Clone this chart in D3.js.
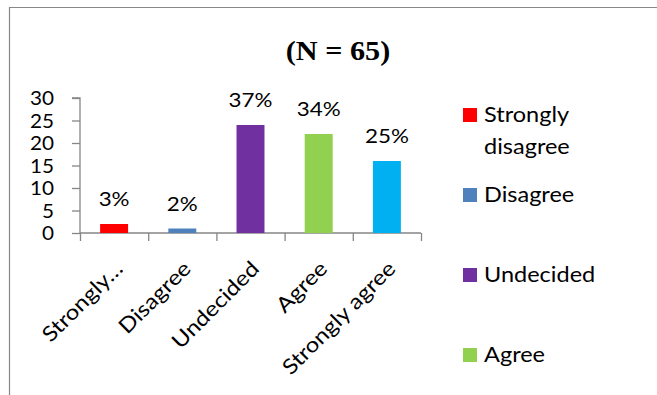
<!DOCTYPE html>
<html>
<head>
<meta charset="utf-8">
<script src="https://cdn.jsdelivr.net/npm/d3@7"></script>
<style>
  html, body { margin: 0; padding: 0; background: #fff; }
  svg { display: block; }
  text { font-family: Lato, "Open Sans", sans-serif; fill: #000; }
</style>
</head>
<body>
<svg id="chart" width="657" height="395"></svg>
<script>
// Survey responses (N = 65)
const total = 65;
const categories = ["Strongly disagree", "Disagree", "Undecided", "Agree", "Strongly agree"];
const counts = [2, 1, 24, 22, 16];
const tickLabels = ["Strongly…", "Disagree", "Undecided", "Agree", "Strongly agree"];
const colors = ["#FF0000", "#4F81BD", "#7030A0", "#92D050", "#00B0F0"];
const yTicks = [0, 5, 10, 15, 20, 25, 30];
const title = "(N = " + total + ")";

const data = categories.map((c, i) => ({
  cat: c, count: counts[i], tick: tickLabels[i], color: colors[i],
  pct: Math.round(counts[i] / total * 100) + "%"
}));

const svg = d3.select("#chart");
const sx = 1.12;           // horizontal text scaling
const axisColor = "#868686";

// chart frame
svg.append("path")
  .attr("d", "M9.5,395 V7.5 H657")
  .attr("fill", "none").attr("stroke", "#888").attr("stroke-width", 1.2);

// title
svg.append("text")
  .attr("transform", `translate(338,60) scale(${sx},1)`)
  .attr("text-anchor", "middle")
  .style("font-family", "'Liberation Serif', 'Times New Roman', serif")
  .style("font-weight", "bold").style("font-size", "27px")
  .text(title);

const x = d3.scaleBand().domain(categories).range([80, 421]).paddingInner(0).paddingOuter(0);
const y = d3.scaleLinear().domain([0, 30]).range([233, 98]);
const barW = x.bandwidth() * 0.41;

// y axis
const yAxis = svg.append("g").attr("transform", "translate(80,0)")
  .call(d3.axisLeft(y).tickValues(yTicks).tickSize(8).tickFormat(d3.format("d")));
yAxis.select(".domain").attr("stroke", axisColor).attr("stroke-width", 1.3)
  .attr("d", `M-8,${y(30)}H0V${y(0)}`);
yAxis.selectAll(".tick line").attr("stroke", axisColor).attr("stroke-width", 1.3);
yAxis.selectAll(".tick text")
  .attr("x", null).attr("dy", null)
  .attr("transform", `translate(-26,6.7) scale(${sx},1)`)
  .style("font-family", "Lato, sans-serif").style("font-size", "18.5px").attr("fill", "#000");

// x axis: category boundary ticks
const xb = d3.scaleLinear().domain([0, categories.length]).range(x.range());
const xAxis = svg.append("g").attr("transform", `translate(0,${y(0)})`)
  .call(d3.axisBottom(xb).tickValues(d3.range(categories.length + 1)).tickSize(8).tickFormat(""));
xAxis.select(".domain").attr("stroke", axisColor).attr("stroke-width", 1.3)
  .attr("d", `M${xb(0)},0H${xb(categories.length)}`);
xAxis.selectAll(".tick line").attr("stroke", axisColor).attr("stroke-width", 1.3);

// x axis category labels, rotated
const xl = svg.append("g").attr("transform", `translate(0,${y(0)})`)
  .call(d3.axisBottom(x).tickSize(0).tickFormat((d, i) => tickLabels[i]));
xl.select(".domain").remove();
xl.selectAll(".tick text")
  .attr("y", null).attr("dy", null)
  .attr("text-anchor", "end")
  .attr("transform", "translate(10,37) rotate(-45) scale(1.14,1)")
  .style("font-family", "Lato, sans-serif").style("font-size", "21px").attr("fill", "#000");

// bars
svg.append("g").selectAll("rect").data(data).join("rect")
  .attr("x", d => x(d.cat) + (x.bandwidth() - barW) / 2)
  .attr("width", barW)
  .attr("y", d => y(d.count))
  .attr("height", d => y(0) - y(d.count))
  .attr("fill", d => d.color);

// percentage labels
svg.append("g").selectAll("text").data(data).join("text")
  .attr("text-anchor", "middle")
  .attr("transform", d => `translate(${x(d.cat) + x.bandwidth() / 2},${y(d.count) - 18}) scale(${sx},1)`)
  .style("font-size", "20px")
  .text(d => d.pct);

// legend: the panel only has room for the first four entries
const lg = svg.append("g").selectAll("g").data(data.slice(0, 4)).join("g")
  .attr("transform", (d, i) => `translate(463,${108 + i * 80})`);
lg.append("rect").attr("width", 14).attr("height", 14).attr("fill", d => d.color);
lg.append("text")
  .attr("transform", `translate(21,14) scale(${sx},1)`)
  .style("font-size", "21px")
  .each(function (d) {
    const words = d.cat.split(" ");
    const t = d3.select(this);
    if (words.length > 1) {
      t.append("tspan").attr("x", 0).attr("dy", 0).text(words[0]);
      t.append("tspan").attr("x", 0).attr("dy", 32).text(words.slice(1).join(" "));
    } else {
      t.text(d.cat);
    }
  });
</script>
</body>
</html>
